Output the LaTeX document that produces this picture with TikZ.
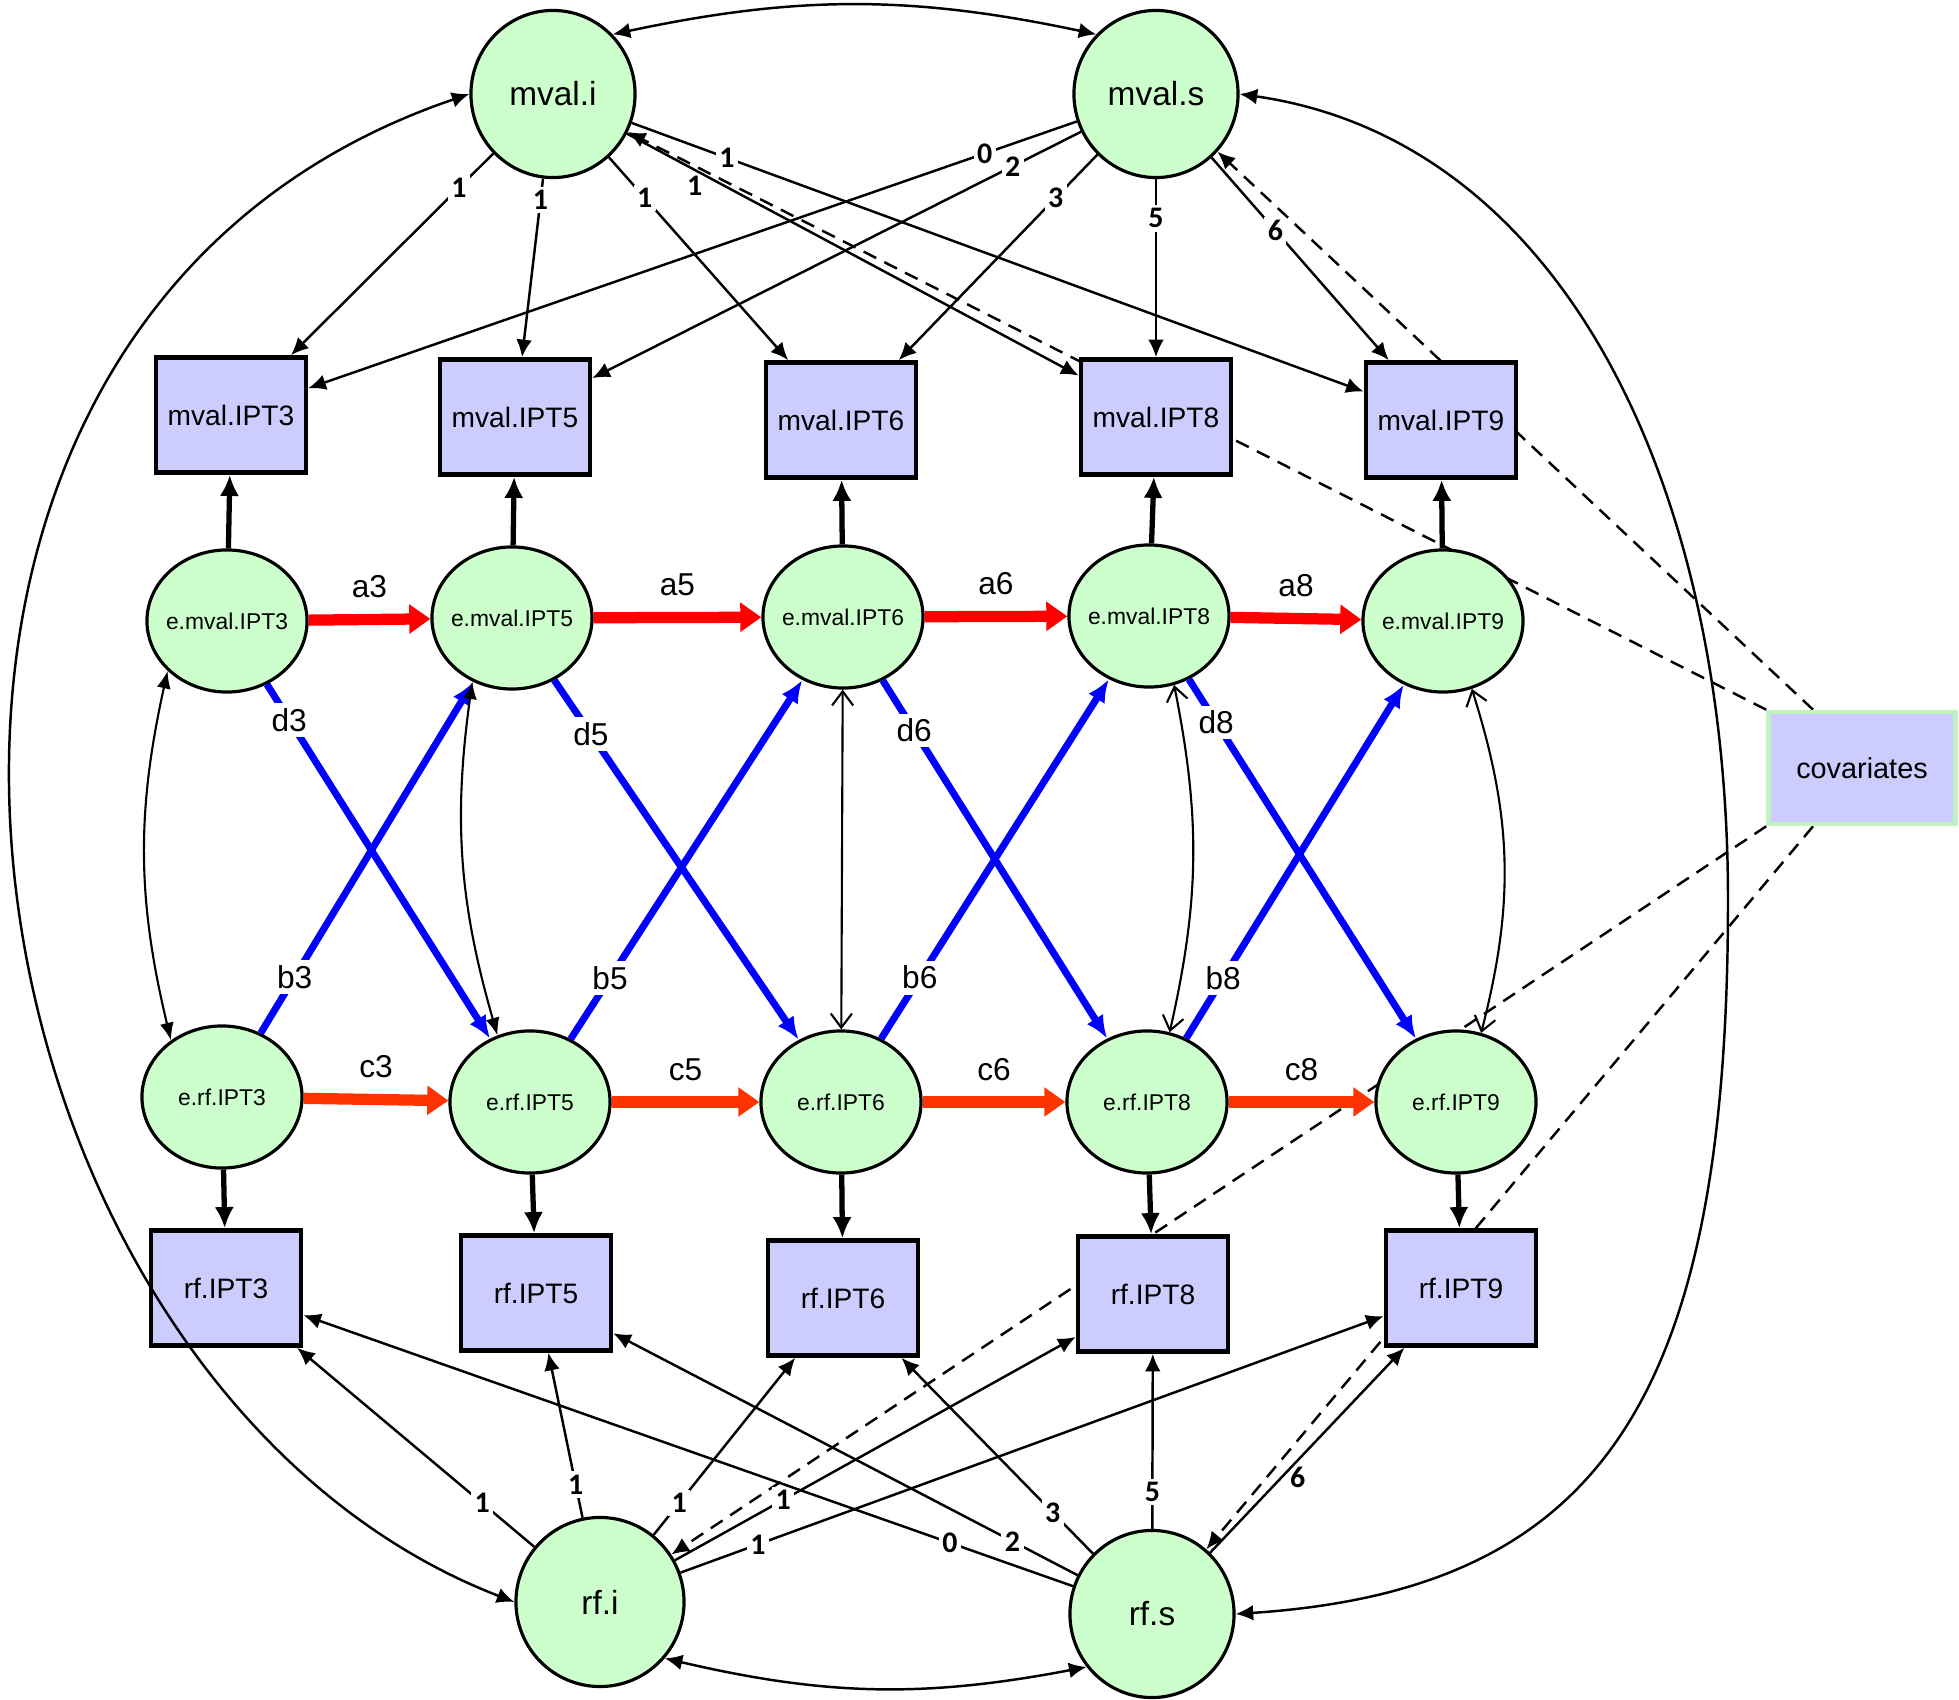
\documentclass[tikz,border=0pt]{standalone}
\usepackage{fontspec}
\setmainfont{Liberation Sans}
\newfontfamily\lblfont{Carlito}
\usetikzlibrary{shapes.geometric, arrows.meta, positioning}
\definecolor{latGreen}{HTML}{CCFFCC}
\definecolor{obsBlue}{HTML}{CCCCFF}
\definecolor{covGreen}{HTML}{C2F2C2}
\definecolor{pathRed}{HTML}{FF0000}
\definecolor{pathOrange}{HTML}{FF3300}
\definecolor{pathBlue}{HTML}{0000FF}
\pgfdeclarelayer{back}
\pgfsetlayers{back,main}
\tikzstyle{latentEll} = [shape=ellipse, draw=black, fill=latGreen, line width=0.9pt,
	inner sep=0pt, align=center]
\tikzstyle{GrowthEll} = [latentEll, minimum width=1.64cm, minimum height=1.67cm,
	font=\fontsize{9.5}{10}\selectfont]
\tikzstyle{ResidEll} = [latentEll, inner xsep=-4pt, minimum width=1.6cm, minimum height=1.42cm,
	font=\fontsize{6.5}{7}\selectfont]
\tikzstyle{obsBox} = [shape=rectangle, draw=black, fill=obsBlue, line width=1.3pt,
	minimum width=1.5cm, minimum height=1.15cm, font=\fontsize{8}{9}\selectfont]
\tikzstyle{covBox} = [obsBox, draw=covGreen, minimum width=1.87cm, minimum height=1.12cm,
	font=\fontsize{8.2}{10}\selectfont]
\tikzstyle{loadArrow} = [-{Latex[length=5pt,width=4.5pt]}, line width=0.7pt]
\tikzstyle{covArrow} = [loadArrow, dash pattern=on 4pt off 2.6pt]
\tikzstyle{residArrow} = [-{Latex[length=6pt,width=5.5pt]}, line width=1.5pt]
\tikzstyle{arArrow} = [-{Triangle[length=6pt,width=8pt]}, line width=3.2pt]
\tikzstyle{crossArrow} = [-{Latex[length=6.5pt,width=5.5pt]}, line width=2pt, draw=pathBlue]
\tikzstyle{covCurve} = [{Latex[length=5pt,width=4.5pt]}-{Latex[length=5pt,width=4.5pt]},
	line width=0.7pt]
\tikzstyle{corrFilled} = [{Latex[length=5pt,width=4pt]}-{Latex[length=5pt,width=4pt]},
	line width=0.6pt]
\tikzstyle{corrOpen} = [{Straight Barb[length=4pt,width=6pt]}-{Straight Barb[length=4pt,width=6pt]},
	line width=0.6pt]
\tikzstyle{loadLbl} = [fill=white, inner sep=1pt, font=\lblfont\bfseries\fontsize{8.5}{9}\selectfont]
\tikzstyle{pathLbl} = [inner sep=1.5pt, font=\fontsize{9}{10}\selectfont]

\begin{document}
\begin{tikzpicture}[x=0.01cm, y=-0.01cm]
  \useasboundingbox (0,0) rectangle (1959,1700);

  \node (MI) [GrowthEll] at (553,94) {mval.i};
  \node (MS) [GrowthEll] at (1156,94) {mval.s};

  \node (M3) [obsBox] at (231,415) {mval.IPT3};
  \node (M5) [obsBox] at (515,417) {mval.IPT5};
  \node (M6) [obsBox] at (841,420) {mval.IPT6};
  \node (M8) [obsBox] at (1156,417) {mval.IPT8};
  \node (M9) [obsBox] at (1441,420) {mval.IPT9};

  \node (EM3) [ResidEll] at (227,621) {e.mval.IPT3};
  \node (EM5) [ResidEll] at (512,618) {e.mval.IPT5};
  \node (EM6) [ResidEll] at (843,617) {e.mval.IPT6};
  \node (EM8) [ResidEll] at (1149,616) {e.mval.IPT8};
  \node (EM9) [ResidEll] at (1443,621) {e.mval.IPT9};

  \node (ER3) [ResidEll] at (222,1097) {e.rf.IPT3};
  \node (ER5) [ResidEll] at (530,1102) {e.rf.IPT5};
  \node (ER6) [ResidEll] at (841,1102) {e.rf.IPT6};
  \node (ER8) [ResidEll] at (1147,1102) {e.rf.IPT8};
  \node (ER9) [ResidEll] at (1456,1102) {e.rf.IPT9};

  \node (R3) [obsBox] at (226,1288) {rf.IPT3};
  \node (R5) [obsBox] at (536,1293) {rf.IPT5};
  \node (R6) [obsBox] at (843,1298) {rf.IPT6};
  \node (R8) [obsBox] at (1153,1294) {rf.IPT8};
  \node (R9) [obsBox] at (1461,1288) {rf.IPT9};

  \node (RI) [GrowthEll, minimum width=1.68cm, minimum height=1.69cm] at (600,1602) {rf.i};
  \node (RS) [GrowthEll] at (1152,1614) {rf.s};

  \node (COV) [covBox] at (1862,768) {covariates};

  \begin{pgfonlayer}{back}
    \draw [covArrow] (COV.north west) -- (MI);
    \draw [covArrow] (COV.130) -- (MS);
    \draw [covArrow] (COV.south west) -- (RI);
    \draw [covArrow] (COV.230) -- (RS);
  \end{pgfonlayer}

  \draw [covCurve] (MI.45) to[bend left=12] (MS.135);
  \draw [covCurve] (MI.west) .. controls (-225,330) and (-60,1380) .. (RI.west);
  \draw [covCurve] (MS.east) .. controls (1560,140) and (1728,480) .. (1728,900)
    .. controls (1728,1400) and (1600,1590) .. (RS.east);
  \draw [covCurve] (RI.319) to[bend right=12] (RS.219);

  \draw [loadArrow] (MI) -- node[loadLbl, pos=0.17] {1} (M3);
  \draw [loadArrow] (MI) -- node[loadLbl, pos=0.12] {1} (M5);
  \draw [loadArrow] (MI) -- node[loadLbl, pos=0.2] {1} (M6);
  \draw [loadArrow] (MI) -- node[loadLbl, fill=none, pos=0.15, below=0.5pt] {1} (M8);
  \draw [loadArrow] (MI) -- node[loadLbl, pos=0.13] {1} (M9);

  \draw [loadArrow] (MS) -- node[loadLbl, pos=0.12] {0} (M3);
  \draw [loadArrow] (MS) -- node[loadLbl, pos=0.14] {2} (M5);
  \draw [loadArrow] (MS) -- node[loadLbl, pos=0.21] {3} (M6);
  \draw [loadArrow] (MS) -- node[loadLbl, pos=0.22] {5} (M8);
  \draw [loadArrow] (MS) -- node[loadLbl, pos=0.36] {6} (M9);

  \draw [loadArrow] (RI) -- node[loadLbl, pos=0.22] {1} (R3);
  \draw [loadArrow] (RI) -- node[loadLbl, pos=0.2] {1} (R5);
  \draw [loadArrow] (RI) -- node[loadLbl, pos=0.18] {1} (R6);
  \draw [loadArrow] (RI) -- node[loadLbl, pos=0.27] {1} (R8);
  \draw [loadArrow] (RI) -- node[loadLbl, pos=0.11] {1} (R9);

  \draw [loadArrow] (RS) -- node[loadLbl, pos=0.16] {0} (R3);
  \draw [loadArrow] (RS) -- node[loadLbl, pos=0.14] {2} (R5);
  \draw [loadArrow] (RS) -- node[loadLbl, pos=0.21] {3} (R6);
  \draw [loadArrow] (RS) -- node[loadLbl, pos=0.21] {5} (R8);
  \draw [loadArrow] (RS) -- node[loadLbl, fill=none, pos=0.37, right=1pt] {6} (R9);

  \draw [residArrow] (EM3) -- (M3);
  \draw [residArrow] (EM5) -- (M5);
  \draw [residArrow] (EM6) -- (M6);
  \draw [residArrow] (EM8) -- (M8);
  \draw [residArrow] (EM9) -- (M9);
  \draw [residArrow] (ER3) -- (R3);
  \draw [residArrow] (ER5) -- (R5);
  \draw [residArrow] (ER6) -- (R6);
  \draw [residArrow] (ER8) -- (R8);
  \draw [residArrow] (ER9) -- (R9);

  \draw [arArrow, draw=pathRed] (EM3) -- node[pathLbl, above=3pt] {a3} (EM5);
  \draw [arArrow, draw=pathRed] (EM5) -- node[pathLbl, above=3pt] {a5} (EM6);
  \draw [arArrow, draw=pathRed] (EM6) -- node[pathLbl, above=3pt] {a6} (EM8);
  \draw [arArrow, draw=pathRed] (EM8) -- node[pathLbl, above=3pt] {a8} (EM9);
  \draw [arArrow, draw=pathOrange] (ER3) -- node[pathLbl, above=3pt] {c3} (ER5);
  \draw [arArrow, draw=pathOrange] (ER5) -- node[pathLbl, above=3pt] {c5} (ER6);
  \draw [arArrow, draw=pathOrange] (ER6) -- node[pathLbl, above=3pt] {c6} (ER8);
  \draw [arArrow, draw=pathOrange] (ER8) -- node[pathLbl, above=3pt] {c8} (ER9);

  \draw [crossArrow] (EM3) -- node[pathLbl, fill=white, pos=0.1] {d3} (ER5);
  \draw [crossArrow] (EM5) -- node[pathLbl, fill=white, pos=0.15] {d5} (ER6);
  \draw [crossArrow] (EM6) -- node[pathLbl, fill=white, pos=0.14] {d6} (ER8);
  \draw [crossArrow] (EM8) -- node[pathLbl, fill=white, pos=0.12] {d8} (ER9);
  \draw [crossArrow] (ER3) -- node[pathLbl, fill=white, pos=0.16] {b3} (EM5);
  \draw [crossArrow] (ER5) -- node[pathLbl, fill=white, pos=0.17] {b5} (EM6);
  \draw [crossArrow] (ER6) -- node[pathLbl, fill=white, pos=0.17] {b6} (EM8);
  \draw [crossArrow] (ER8) -- node[pathLbl, fill=white, pos=0.17] {b8} (EM9);

  \draw [corrFilled] (EM3.220) to[bend right=13] (ER3.132);
  \draw [corrFilled] (EM5.238) to[bend right=12] (ER5.116);
  \draw [corrOpen] (EM6) -- (ER6);
  \draw [corrOpen] (EM8.290) to[bend left=12] (ER8.72);
  \draw [corrOpen] (EM9.293) to[bend left=16] (ER9.70);

\end{tikzpicture}
\end{document}
